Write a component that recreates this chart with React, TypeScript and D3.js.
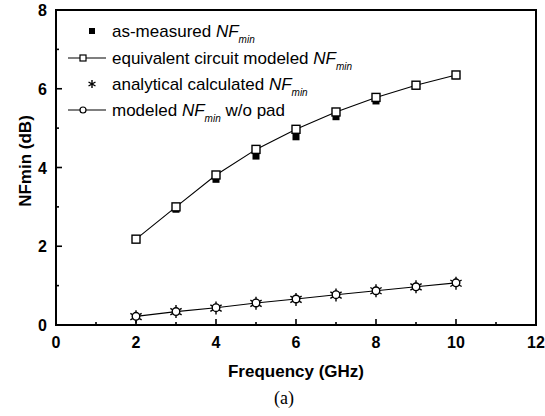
import React from "react";
import * as d3 from "d3";

const freqs = [2, 3, 4, 5, 6, 7, 8, 9, 10];
const measured = [2.17, 2.94, 3.7, 4.29, 4.78, 5.29, 5.69, 6.07, 6.33];
const circuitModeled = [2.18, 3.0, 3.81, 4.46, 4.97, 5.41, 5.78, 6.09, 6.35];
const analytical = [0.21, 0.34, 0.43, 0.55, 0.65, 0.76, 0.87, 0.97, 1.06];
const modeledNoPad = [0.22, 0.34, 0.44, 0.56, 0.66, 0.77, 0.87, 0.97, 1.07];
const xTicks = [0, 2, 4, 6, 8, 10, 12];
const xMinor = [1, 3, 5, 7, 9, 11];
const yTicks = [0, 2, 4, 6, 8];
const yMinor = [1, 3, 5, 7];

const W = 545, H = 416;
const L = 56, R = 536, T = 10, B = 325;

const x = d3.scaleLinear().domain([0, 12]).range([L, R]);
const y = d3.scaleLinear().domain([0, 8]).range([B, T]);

const line = d3.line<number>().x((_, i) => x(freqs[i])).y((d) => y(d));

const Star = ({ cx, cy, s = 6 }: { cx: number; cy: number; s?: number }) => (
  <g stroke="#000" strokeWidth={1.4}>
    <line x1={cx} y1={cy - s} x2={cx} y2={cy + s} />
    <line x1={cx - s * 0.87} y1={cy - s * 0.5} x2={cx + s * 0.87} y2={cy + s * 0.5} />
    <line x1={cx - s * 0.87} y1={cy + s * 0.5} x2={cx + s * 0.87} y2={cy - s * 0.5} />
  </g>
);

const font = "'Liberation Sans', Arial, sans-serif";

const NF = ({ xPos, yPos, prefix, suffix }: { xPos: number; yPos: number; prefix: string; suffix?: string }) => (
  <text x={xPos} y={yPos} fontFamily={font} fontSize={17} fill="#000">
    {prefix}
    <tspan fontStyle="italic">NF</tspan>
    <tspan fontStyle="italic" fontSize={10} dy={6}>min</tspan>
    {suffix ? <tspan dy={-6}>{suffix}</tspan> : null}
  </text>
);

export default function App() {
  const legY = [31, 58, 84, 110];
  return (
    <svg width={W} height={H} style={{ position: "absolute", left: 0, top: 0, background: "#fff" }}>
      <rect width={W} height={H} fill="#fff" />
      {/* frame */}
      <rect x={L} y={T} width={R - L} height={B - T} fill="none" stroke="#000" strokeWidth={2} />
      {/* x ticks */}
      {xTicks.map((t) => (
        <g key={"xt" + t}>
          <line x1={x(t)} x2={x(t)} y1={B} y2={B - 6} stroke="#000" strokeWidth={1.6} />
          <text x={x(t)} y={348} textAnchor="middle" fontFamily={font} fontWeight="bold" fontSize={16}>{t}</text>
        </g>
      ))}
      {xMinor.map((t) => (
        <line key={"xm" + t} x1={x(t)} x2={x(t)} y1={B} y2={B - 3} stroke="#000" strokeWidth={1.6} />
      ))}
      {/* y ticks */}
      {yTicks.map((t) => (
        <g key={"yt" + t}>
          <line x1={L} x2={L + 6} y1={y(t)} y2={y(t)} stroke="#000" strokeWidth={1.6} />
          <text x={47} y={y(t) + 6} textAnchor="end" fontFamily={font} fontWeight="bold" fontSize={16}>{t}</text>
        </g>
      ))}
      {yMinor.map((t) => (
        <line key={"ym" + t} x1={L} x2={L + 3} y1={y(t)} y2={y(t)} stroke="#000" strokeWidth={1.6} />
      ))}
      {/* axis titles */}
      <text x={x(6)} y={377} textAnchor="middle" fontFamily={font} fontWeight="bold" fontSize={17}>Frequency (GHz)</text>
      <text transform={`translate(31,${161}) rotate(-90)`} textAnchor="middle" fontFamily={font} fontWeight="bold" fontSize={17}>NFmin (dB)</text>
      <text x={284} y={404} textAnchor="middle" fontFamily="'Liberation Serif', 'Times New Roman', serif" fontSize={18}>(a)</text>

      {/* measured filled squares */}
      {measured.map((v, i) => (
        <rect key={"m" + i} x={x(freqs[i]) - 3.5} y={y(v) - 3.5} width={7} height={7} fill="#000" />
      ))}
      {/* equivalent circuit modeled */}
      <path d={line(circuitModeled) || ""} fill="none" stroke="#000" strokeWidth={1.1} />
      {circuitModeled.map((v, i) => (
        <rect key={"c" + i} x={x(freqs[i]) - 4} y={y(v) - 4} width={8} height={8} fill="#fff" stroke="#000" strokeWidth={1.4} />
      ))}
      {/* analytical stars */}
      {analytical.map((v, i) => (
        <Star key={"a" + i} cx={x(freqs[i])} cy={y(v)} s={6.5} />
      ))}
      {/* modeled w/o pad */}
      <path d={line(modeledNoPad) || ""} fill="none" stroke="#000" strokeWidth={1.1} />
      {modeledNoPad.map((v, i) => (
        <circle key={"p" + i} cx={x(freqs[i])} cy={y(v)} r={3.8} fill="#fff" stroke="#000" strokeWidth={1.4} />
      ))}

      {/* legend */}
      <rect x={89} y={legY[0] - 3} width={6} height={6} fill="#000" />
      <NF xPos={112} yPos={legY[0] + 6} prefix="as-measured " />

      <line x1={68} x2={106} y1={legY[1]} y2={legY[1]} stroke="#000" strokeWidth={1.1} />
      <rect x={80} y={legY[1] - 3} width={6} height={6} fill="#fff" stroke="#000" strokeWidth={1.2} />
      <NF xPos={112} yPos={legY[1] + 6} prefix="equivalent circuit modeled " />

      <Star cx={92} cy={legY[2]} s={4} />
      <NF xPos={112} yPos={legY[2] + 6} prefix="analytical calculated " />

      <line x1={68} x2={106} y1={legY[3]} y2={legY[3]} stroke="#000" strokeWidth={1.1} />
      <circle cx={83} cy={legY[3]} r={3} fill="#fff" stroke="#000" strokeWidth={1.2} />
      <NF xPos={112} yPos={legY[3] + 6} prefix="modeled " suffix=" w/o pad" />
    </svg>
  );
}
